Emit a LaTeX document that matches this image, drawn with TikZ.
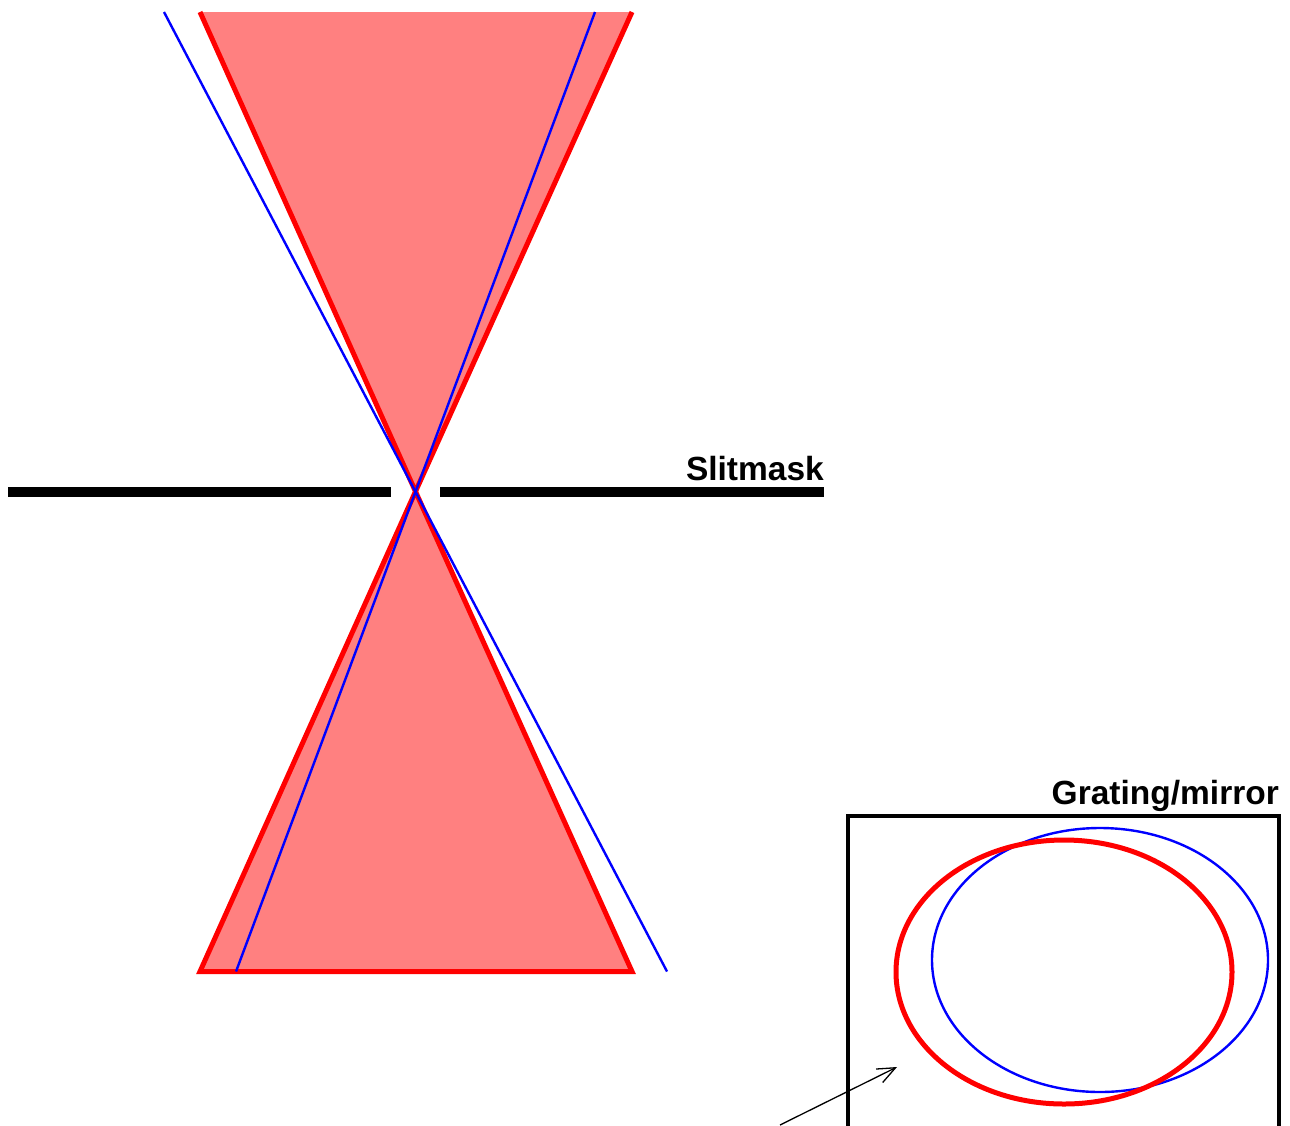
\documentclass[tikz,border=0pt]{standalone}
\usepackage{fontspec}
\setmainfont{Liberation Sans}
\usetikzlibrary{arrows.meta}
\definecolor{pinkfill}{RGB}{255,128,128}
\tikzset{
  x=1pt,y=-1pt,
  redline/.style={draw=red,line width=5pt},
  blueline/.style={draw=blue,line width=2.4pt},
  barline/.style={draw=black,line width=10pt},
  framebox/.style={draw=black,line width=4.6pt},
  pointer/.style={draw=black,line width=1.3pt,-{Straight Barb[length=18pt,width=15pt,line width=1.3pt]}},
  lab/.style={font=\fontsize{33.5pt}{36pt}\selectfont\bfseries,inner sep=0pt,anchor=base east}
}
\begin{document}
\begin{tikzpicture}
\useasboundingbox (0,0) rectangle (1290,1125);
\clip (0,0) rectangle (1290,1125);
\coordinate (apex) at (415.5,491.5);
\coordinate (tl) at (200,12);
\coordinate (tr) at (632,12);
\coordinate (bl) at (200,971.5);
\coordinate (br) at (632,971.5);
\coordinate (b1) at (164,12);
\coordinate (b2) at (667,971.5);
\coordinate (b3) at (595,12);
\coordinate (b4) at (236,971.5);
\coordinate (sl1) at (8,491.5);
\coordinate (sl2) at (391,491.5);
\coordinate (sl3) at (440,491.5);
\coordinate (sl4) at (824,491.5);
\coordinate (arrowstart) at (780,1125);
\coordinate (arrowend) at (897,1067);
% beam
\fill[pinkfill] (tl) -- (apex) -- (tr) -- cycle;
\fill[pinkfill] (bl) -- (apex) -- (br) -- cycle;
\draw[redline,miter limit=10] (tl) -- (apex) -- (tr);
\draw[redline,miter limit=10,line join=miter] (apex) -- (bl) -- (br) -- cycle;
% slitmask
\draw[barline] (sl1) -- (sl2);
\draw[barline] (sl3) -- (sl4);
\draw[blueline] (b1) -- (b2);
\draw[blueline] (b3) -- (b4);
\node[lab] (slitlabel) at (824,480) {Slitmask};
% grating
\draw[framebox] (848,1140) -- (848,816) -- (1279,816) -- (1279,1140);
\node[lab] (gratinglabel) at (1279,804) {Grating/mirror};
\draw[blueline] (1100,960) ellipse [x radius=168,y radius=132];
\draw[redline] (1064,972) ellipse [x radius=168,y radius=132];
\draw[pointer] (arrowstart) -- (arrowend);
\end{tikzpicture}
\end{document}
